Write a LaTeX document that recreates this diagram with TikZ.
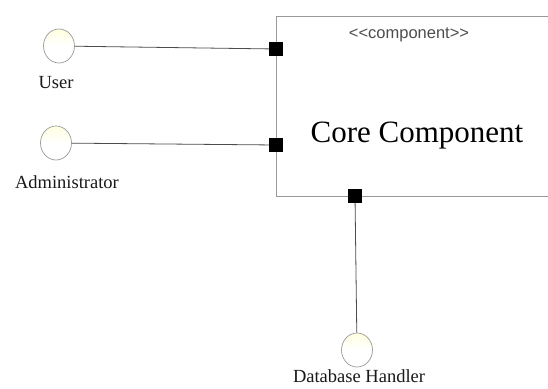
\documentclass[tikz,border=0pt]{standalone}
\usepackage{fontspec}
\setmainfont{Liberation Serif}
\newfontfamily\labsans{Liberation Sans}
\usetikzlibrary{shapes.geometric}
\begin{document}
\begin{tikzpicture}[x=1pt,y=-1pt,
  iface/.style={ellipse,draw=gray!80,line width=0.7pt,minimum width=31pt,minimum height=34pt,inner sep=0pt,
    top color=yellow!12,bottom color=white,middle color=white},
  portbox/.style={rectangle,fill=black,minimum size=14pt,inner sep=0pt},
  wire/.style={draw=black!70,line width=0.8pt},
  lab/.style={font=\fontsize{18.5}{20}\selectfont,anchor=base,text=black!90,inner sep=0pt}]
\useasboundingbox (0,0) rectangle (548,388);
\clip (0,0) rectangle (548,388);
\node[draw=gray!80,line width=0.8pt,rectangle,minimum width=324pt,minimum height=180pt,inner sep=0pt] (core) at (438,106) {};
\node[font=\labsans\fontsize{16.5}{18}\selectfont,text=black!70,anchor=base,inner sep=0pt] (stereo) at (409,38) {<<component>>};
\node[font=\fontsize{31}{34}\selectfont,anchor=base,inner sep=0pt] (title) at (417,142) {Core Component};
\node[portbox] (pu) at (276,49) {};
\node[portbox] (pa) at (276,145) {};
\node[portbox] (pd) at (355,196) {};
\node[iface] (u) at (59,46) {};
\node[iface] (a) at (56,143) {};
\node[iface] (d) at (357,350) {};
\node[lab] (ul) at (56,88) {User};
\node[lab] (al) at (67,188) {Administrator};
\node[lab] (dl) at (359,382) {Database Handler};
\draw[wire] (u) -- (pu);
\draw[wire] (a) -- (pa);
\draw[wire] (pd) -- (d);
\end{tikzpicture}
\end{document}
